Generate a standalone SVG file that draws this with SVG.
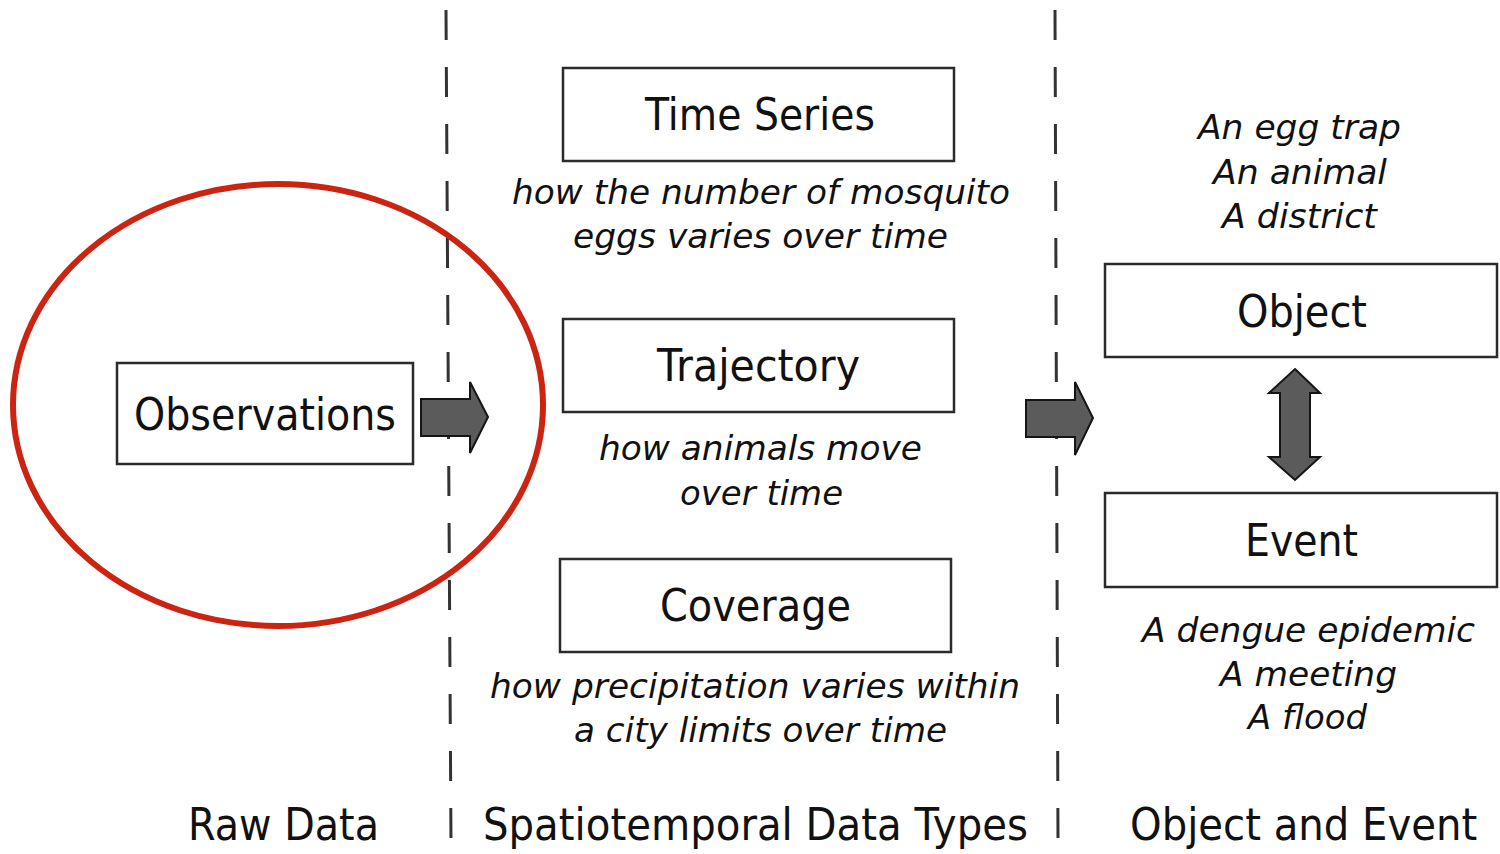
<svg xmlns="http://www.w3.org/2000/svg" width="1500" height="854" viewBox="0 0 1500 854">
  <style>
    .box { fill: #ffffff; stroke: #2b2b2b; stroke-width: 2.5; }
    .title { font-family: "DejaVu Sans", "Liberation Sans", sans-serif; font-size: 44px; fill: #111111; }
    .note { font-family: "DejaVu Sans", "Liberation Sans", sans-serif; font-size: 34px; font-style: italic; fill: #111111; }
    .divider { stroke: #333333; stroke-width: 3; stroke-dasharray: 30 27; fill: none; }
    .arrow { fill: #5b5b5b; stroke: #151515; stroke-width: 2; stroke-linejoin: miter; }
    .halo { fill: none; stroke: #cc2412; stroke-width: 6; }
  </style>

  <rect width="1500" height="854" fill="#ffffff"/>

  <!-- column dividers -->
  <g id="dividers">
    <line class="divider" x1="446" y1="10" x2="451" y2="842"/>
    <line class="divider" x1="1055" y1="10" x2="1058" y2="842"/>
  </g>

  <!-- column headings -->
  <g id="headings">
    <text class="title" x="188" y="840" textLength="191" lengthAdjust="spacingAndGlyphs">Raw Data</text>
    <text class="title" x="483" y="840" textLength="545" lengthAdjust="spacingAndGlyphs">Spatiotemporal Data Types</text>
    <!-- narrower face, stretched vertically to the same cap height as the other headings -->
    <text class="title" style="font-size:40.2px" transform="translate(1130,840) scale(1,1.095)" x="0" y="0">Object and Event</text>
  </g>

  <!-- raw data -->
  <g id="observations">
    <rect class="box" x="117" y="363" width="296" height="101"/>
    <text class="title" x="134" y="430" textLength="262" lengthAdjust="spacingAndGlyphs">Observations</text>
  </g>

  <!-- spatiotemporal data types -->
  <g id="time-series">
    <rect class="box" x="563" y="68" width="391" height="93"/>
    <text class="title" x="645" y="130" textLength="230" lengthAdjust="spacingAndGlyphs">Time Series</text>
    <text class="note" x="512" y="204" textLength="498" lengthAdjust="spacingAndGlyphs">how the number of mosquito</text>
    <text class="note" x="573" y="248" textLength="375" lengthAdjust="spacingAndGlyphs">eggs varies over time</text>
  </g>

  <g id="trajectory">
    <rect class="box" x="563" y="319" width="391" height="93"/>
    <text class="title" x="657" y="381" textLength="203" lengthAdjust="spacingAndGlyphs">Trajectory</text>
    <text class="note" x="599" y="460" textLength="323" lengthAdjust="spacingAndGlyphs">how animals move</text>
    <text class="note" x="680" y="505" textLength="163" lengthAdjust="spacingAndGlyphs">over time</text>
  </g>

  <g id="coverage">
    <rect class="box" x="560" y="559" width="391" height="93"/>
    <text class="title" x="660" y="621" textLength="191" lengthAdjust="spacingAndGlyphs">Coverage</text>
    <text class="note" x="490" y="698" textLength="530" lengthAdjust="spacingAndGlyphs">how precipitation varies within</text>
    <text class="note" x="574" y="742" textLength="373" lengthAdjust="spacingAndGlyphs">a city limits over time</text>
  </g>

  <!-- object and event -->
  <g id="object">
    <text class="note" x="1198" y="139" textLength="203" lengthAdjust="spacingAndGlyphs">An egg trap</text>
    <text class="note" x="1213" y="184" textLength="174" lengthAdjust="spacingAndGlyphs">An animal</text>
    <text class="note" x="1222" y="228" textLength="155" lengthAdjust="spacingAndGlyphs">A district</text>
    <rect class="box" x="1105" y="264" width="392" height="93"/>
    <text class="title" x="1237" y="327" textLength="130" lengthAdjust="spacingAndGlyphs">Object</text>
  </g>

  <g id="event">
    <rect class="box" x="1105" y="493" width="392" height="94"/>
    <text class="title" x="1245" y="556" textLength="113" lengthAdjust="spacingAndGlyphs">Event</text>
    <text class="note" x="1142" y="642" textLength="333" lengthAdjust="spacingAndGlyphs">A dengue epidemic</text>
    <text class="note" x="1220" y="686" textLength="177" lengthAdjust="spacingAndGlyphs">A meeting</text>
    <text class="note" x="1248" y="729" textLength="119" lengthAdjust="spacingAndGlyphs">A flood</text>
  </g>

  <!-- block arrows -->
  <g id="connectors">
    <path class="arrow" d="M421,399 L470,399 L470,382 L488,417 L470,453 L470,436 L421,436 Z"/>
    <path class="arrow" d="M1026,400 L1075,400 L1075,382 L1093,418 L1075,455 L1075,437 L1026,437 Z"/>
    <path class="arrow" d="M1295,369 L1320,393 L1310,393 L1310,457 L1320,457 L1295,480 L1269,457 L1280,457 L1280,393 L1269,393 Z"/>
  </g>

  <!-- highlight around the raw data column -->
  <g id="highlight">
    <ellipse class="halo" cx="278" cy="405" rx="265" ry="221"/>
  </g>
</svg>
